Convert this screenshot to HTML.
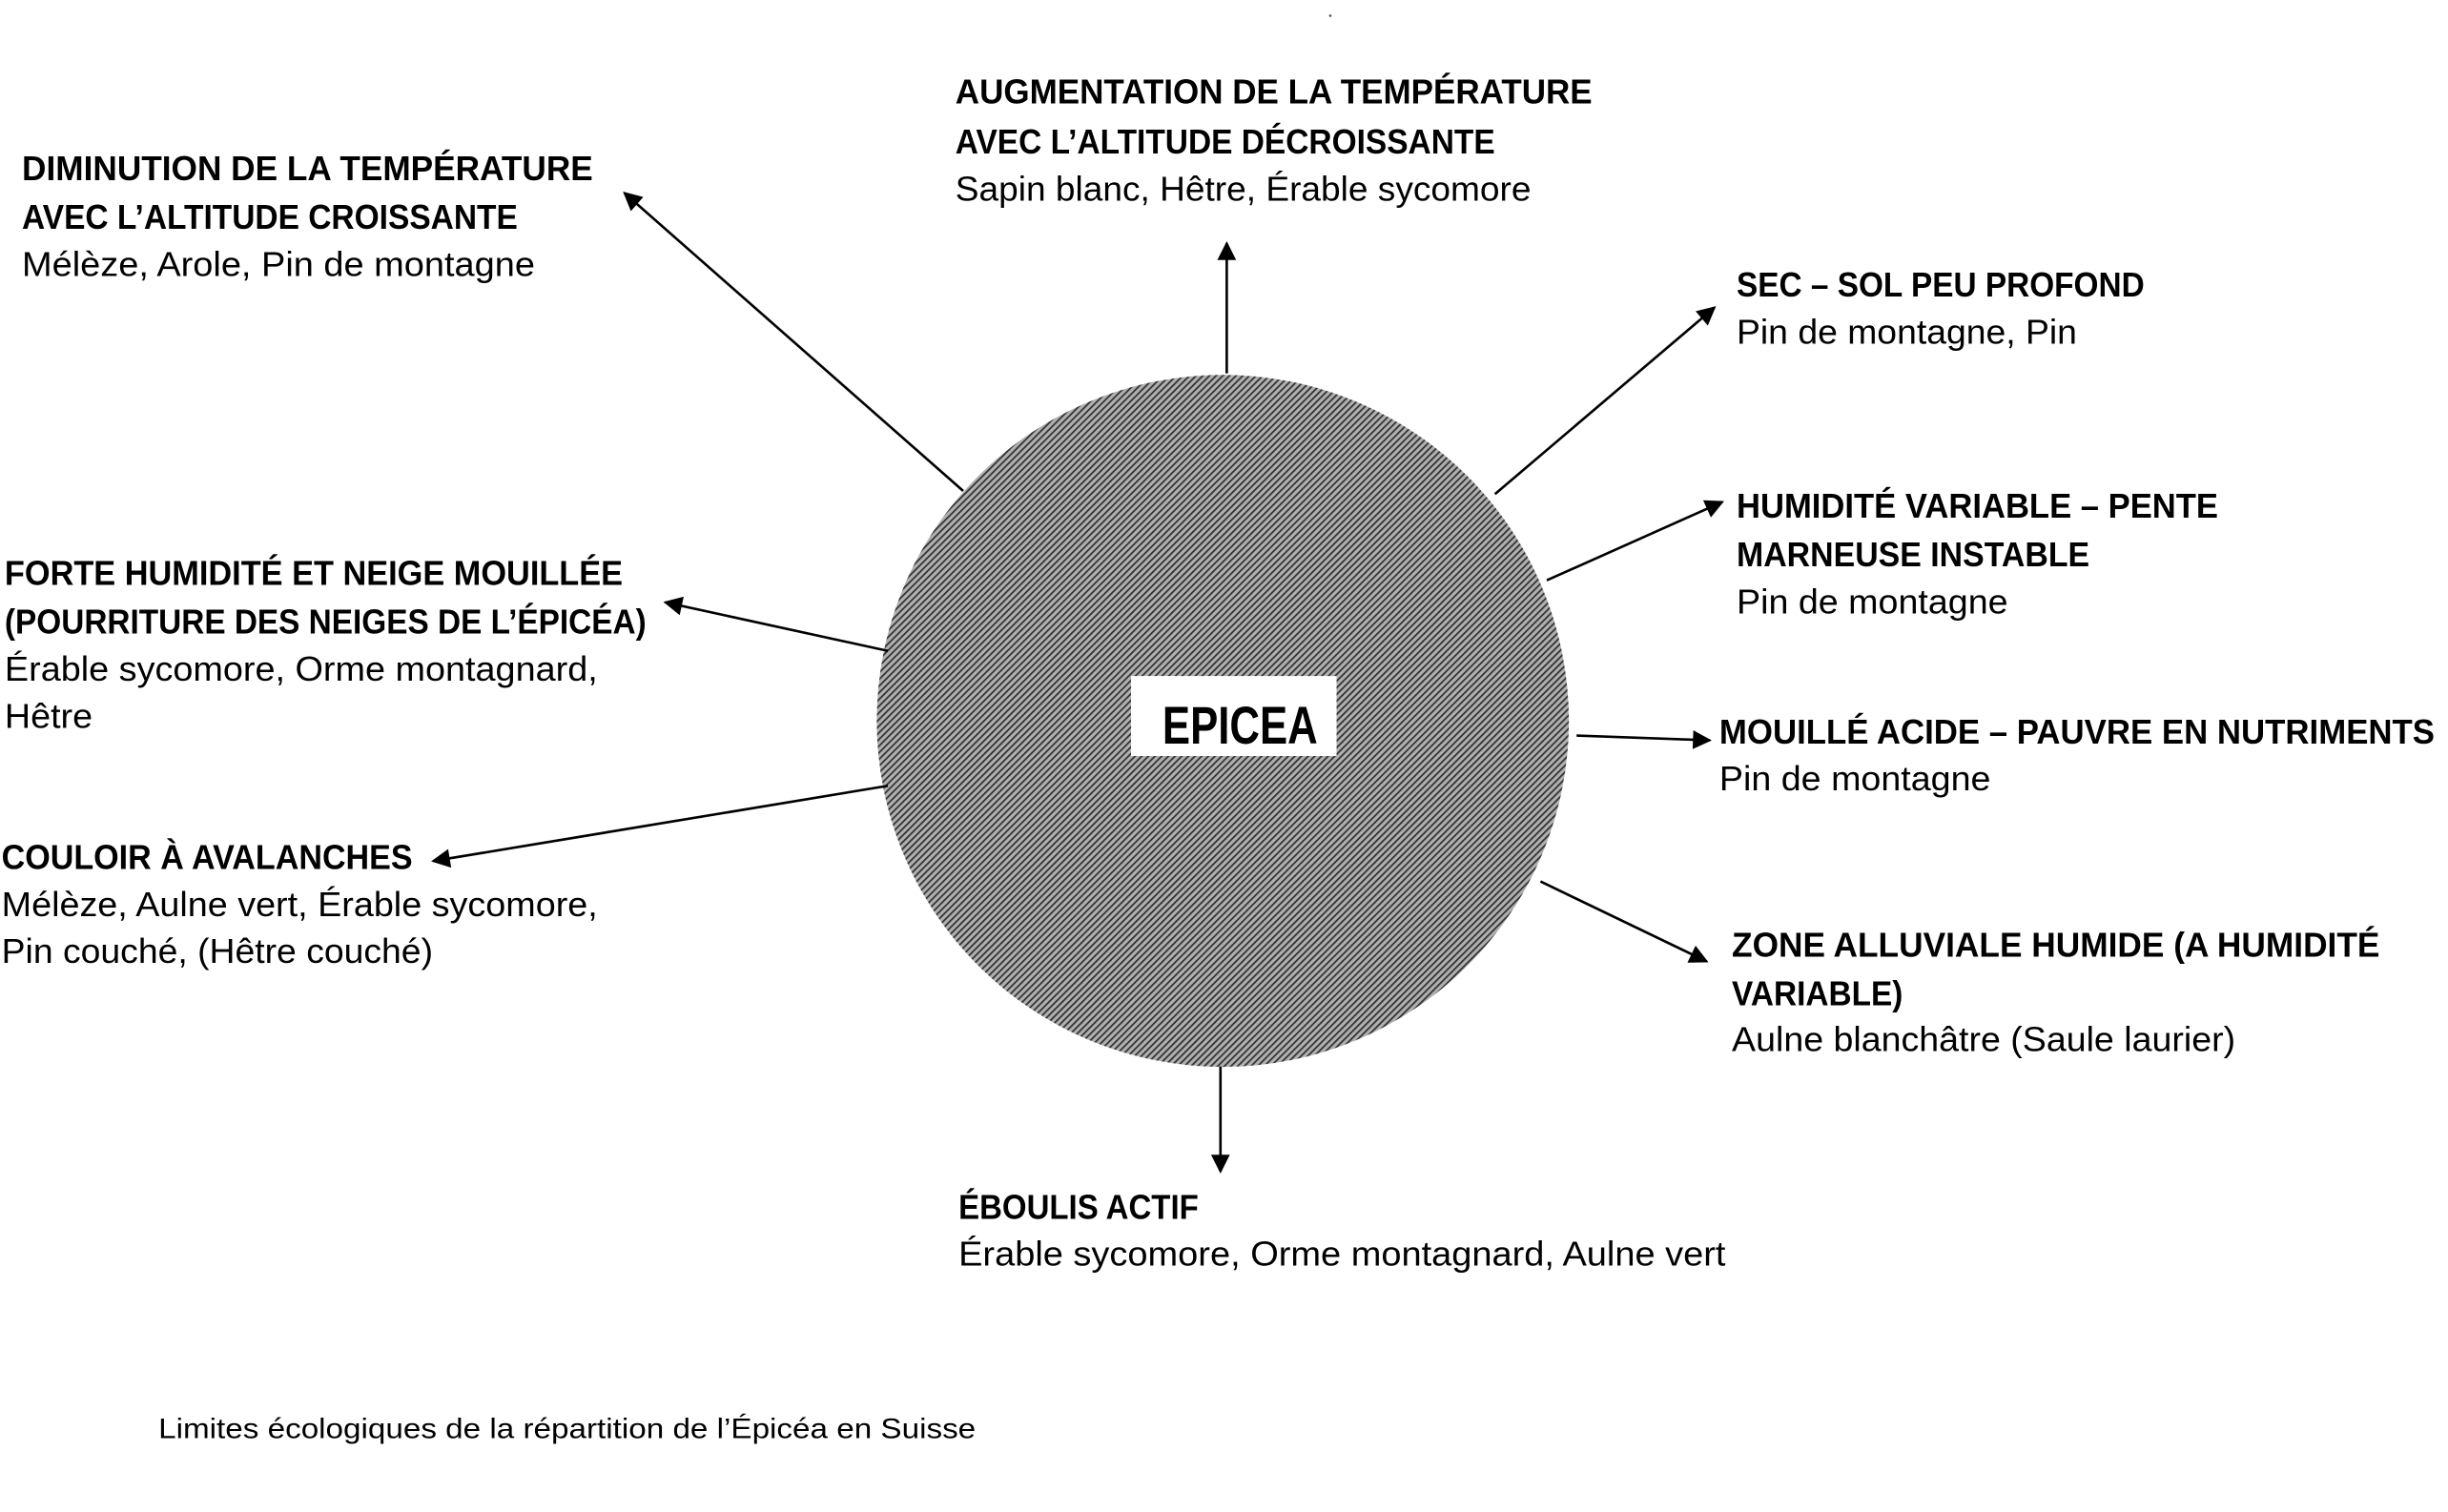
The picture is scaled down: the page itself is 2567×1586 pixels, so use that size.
<!DOCTYPE html>
<html><head><meta charset="utf-8"><style>
html,body{margin:0;padding:0;background:#fff;}
svg{display:block;}
text{font-family:"Liberation Sans",sans-serif;fill:#000;font-size:22px;}
.b{font-weight:bold;}
</style></head><body>
<svg width="2567" height="1586" viewBox="0 0 1560.5 964" preserveAspectRatio="none" xmlns="http://www.w3.org/2000/svg">
<defs>
<pattern id="h" width="3" height="3" patternUnits="userSpaceOnUse" patternTransform="rotate(-45)">
<rect width="3" height="3" fill="#b0b0b0"/>
<rect width="3" height="1.1" fill="#333"/>
</pattern>
<marker id="a" viewBox="0 0 10 10" refX="9" refY="5" markerWidth="16" markerHeight="12" markerUnits="userSpaceOnUse" orient="auto">
<path d="M0,0 L10,5 L0,10 z" fill="#000"/>
</marker>
</defs>
<rect width="1560.5" height="964" fill="#fff"/>
<circle cx="848" cy="10" r="0.8" fill="#555"/>
<circle cx="779.5" cy="459.6" r="220.6" fill="url(#h)"/>
<rect x="721" y="431" width="131" height="51" fill="#fff"/>
<text class="b" x="741" y="474" style="font-size:34px" textLength="99" lengthAdjust="spacingAndGlyphs">EPICEA</text>
<g stroke="#000" stroke-width="1.6" fill="none" marker-end="url(#a)">
<line x1="614" y1="313" x2="398" y2="123"/>
<line x1="782" y1="238" x2="782" y2="155"/>
<line x1="953" y1="315" x2="1093" y2="196"/>
<line x1="986" y1="370" x2="1098" y2="320"/>
<line x1="1005" y1="469" x2="1090" y2="472"/>
<line x1="982" y1="562" x2="1088" y2="613"/>
<line x1="778" y1="680" x2="778" y2="747"/>
<line x1="566" y1="415" x2="424" y2="384"/>
<line x1="566" y1="501" x2="276" y2="549"/>
</g>
<g>
<text class="b" x="609" y="66" textLength="406" lengthAdjust="spacingAndGlyphs">AUGMENTATION DE LA TEMPÉRATURE</text>
<text class="b" x="609" y="98" textLength="344" lengthAdjust="spacingAndGlyphs">AVEC L’ALTITUDE DÉCROISSANTE</text>
<text x="609" y="128" textLength="367" lengthAdjust="spacingAndGlyphs">Sapin blanc, Hêtre, Érable sycomore</text>

<text class="b" x="14" y="115" textLength="364" lengthAdjust="spacingAndGlyphs">DIMINUTION DE LA TEMPÉRATURE</text>
<text class="b" x="14" y="146" textLength="316" lengthAdjust="spacingAndGlyphs">AVEC L’ALTITUDE CROISSANTE</text>
<text x="14" y="176" textLength="327" lengthAdjust="spacingAndGlyphs">Mélèze, Arole, Pin de montagne</text>

<text class="b" x="1107" y="189" textLength="260" lengthAdjust="spacingAndGlyphs">SEC – SOL PEU PROFOND</text>
<text x="1107" y="219" textLength="217" lengthAdjust="spacingAndGlyphs">Pin de montagne, Pin</text>

<text class="b" x="1107" y="330" textLength="307" lengthAdjust="spacingAndGlyphs">HUMIDITÉ VARIABLE – PENTE</text>
<text class="b" x="1107" y="361" textLength="225" lengthAdjust="spacingAndGlyphs">MARNEUSE INSTABLE</text>
<text x="1107" y="391" textLength="173" lengthAdjust="spacingAndGlyphs">Pin de montagne</text>

<text class="b" x="1096" y="474" textLength="456" lengthAdjust="spacingAndGlyphs">MOUILLÉ ACIDE – PAUVRE EN NUTRIMENTS</text>
<text x="1096" y="504" textLength="173" lengthAdjust="spacingAndGlyphs">Pin de montagne</text>

<text class="b" x="1104" y="610" textLength="413" lengthAdjust="spacingAndGlyphs">ZONE ALLUVIALE HUMIDE (A HUMIDITÉ</text>
<text class="b" x="1104" y="641" textLength="109" lengthAdjust="spacingAndGlyphs">VARIABLE)</text>
<text x="1104" y="670" textLength="321" lengthAdjust="spacingAndGlyphs">Aulne blanchâtre (Saule laurier)</text>

<text class="b" x="611" y="777" textLength="153" lengthAdjust="spacingAndGlyphs">ÉBOULIS ACTIF</text>
<text x="611" y="807" textLength="489" lengthAdjust="spacingAndGlyphs">Érable sycomore, Orme montagnard, Aulne vert</text>

<text class="b" x="3" y="373" textLength="394" lengthAdjust="spacingAndGlyphs">FORTE HUMIDITÉ ET NEIGE MOUILLÉE</text>
<text class="b" x="3" y="404" textLength="409" lengthAdjust="spacingAndGlyphs">(POURRITURE DES NEIGES DE L’ÉPICÉA)</text>
<text x="3" y="434" textLength="378" lengthAdjust="spacingAndGlyphs">Érable sycomore, Orme montagnard,</text>
<text x="3" y="464" textLength="56" lengthAdjust="spacingAndGlyphs">Hêtre</text>

<text class="b" x="1" y="554" textLength="262" lengthAdjust="spacingAndGlyphs">COULOIR À AVALANCHES</text>
<text x="1" y="584" textLength="380" lengthAdjust="spacingAndGlyphs">Mélèze, Aulne vert, Érable sycomore,</text>
<text x="1" y="614" textLength="275" lengthAdjust="spacingAndGlyphs">Pin couché, (Hêtre couché)</text>

<text x="101" y="917" style="font-size:18px" textLength="521" lengthAdjust="spacingAndGlyphs">Limites écologiques de la répartition de l’Épicéa en Suisse</text>
</g>
</svg>
</body></html>
